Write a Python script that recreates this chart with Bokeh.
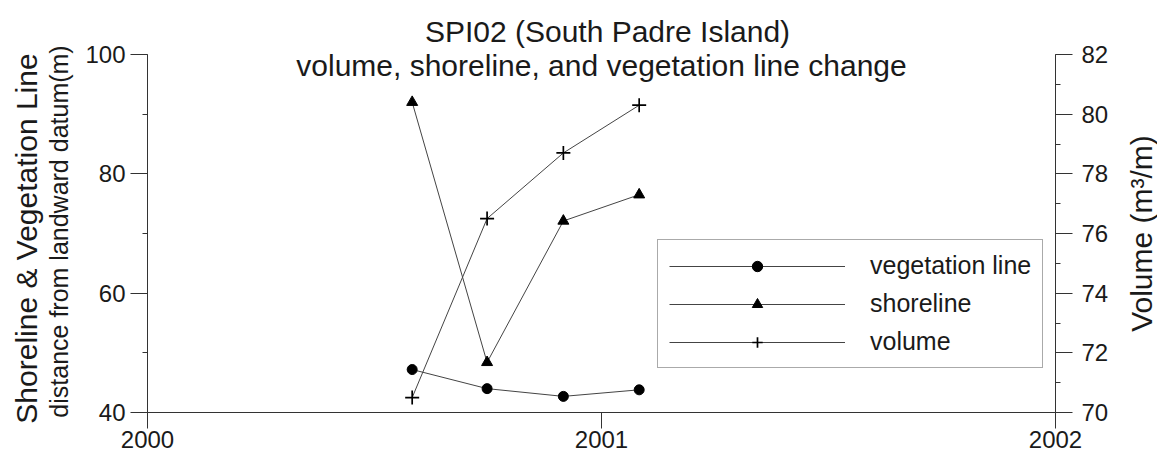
import math
from bokeh.plotting import figure
from bokeh.models import (Range1d, LinearAxis, SingleIntervalTicker, FixedTicker,
                          Legend, LegendItem, Label, ColumnDataSource)
from bokeh.embed import file_html
from bokeh.resources import INLINE

# ---- data ----
dates = [2000.583, 2000.748, 2000.916, 2001.083]
vegetation_line = [47.2, 44.0, 42.7, 43.8]
shoreline = [92.0, 48.4, 72.1, 76.5]
volume = [70.5, 76.5, 78.7, 80.3]

x_ticks = [2000, 2001, 2002]
title_lines = ["SPI02 (South Padre Island)", "volume, shoreline, and vegetation line change"]
left_label_main = "Shoreline & Vegetation Line"
left_label_sub = "distance from landward datum(m)"
right_label = "Volume (m\u00b3/m)"

FONT = "Liberation Sans"
AX = "#333333"
LN = "#444444"
TXT = "#1a1a1a"

# ---- layout geometry (pixels) ----
W, H = 1157, 454
BOX_L, BOX_R, BOX_T, BOX_B = 147, 1055, 54, 412   # the axes box
X_LO, X_HI = 2000, 2002
Y_LO, Y_HI = 40, 100
V_LO, V_HI = 70, 82


def extend(lo, hi, p_lo, p_hi, before, after):
    per = (hi - lo) / (p_hi - p_lo)
    return lo - before * per, hi + after * per


# the frame covers the whole canvas; axes are pinned with fixed_location
xr = extend(X_LO, X_HI, BOX_L, BOX_R, BOX_L, W - BOX_R)
yr = extend(Y_LO, Y_HI, BOX_T, BOX_B, H - BOX_B, BOX_T)
vr = extend(V_LO, V_HI, BOX_T, BOX_B, H - BOX_B, BOX_T)

p = figure(width=W, height=H, output_backend="svg", toolbar_location=None,
           x_range=Range1d(*xr), y_range=Range1d(*yr), min_border=0)
p.min_border_left = p.min_border_right = p.min_border_top = p.min_border_bottom = 0
p.extra_y_ranges = {"vol": Range1d(*vr)}
p.outline_line_color = None
p.xgrid.visible = False
p.ygrid.visible = False
p.background_fill_color = "white"
p.border_fill_color = "white"


def style_axis(ax, tick_out, standoff):
    ax.axis_line_color = AX
    ax.axis_line_width = 1
    ax.major_tick_line_color = AX
    ax.minor_tick_line_color = AX
    ax.major_tick_in = 0
    ax.major_tick_out = tick_out
    ax.minor_tick_in = 0
    ax.minor_tick_out = 5
    ax.major_label_text_font = FONT
    ax.major_label_text_font_size = "24px"
    ax.major_label_text_color = TXT
    ax.major_label_standoff = standoff


# x axis, pinned at y = 40
xa = p.xaxis[0]
xa.ticker = FixedTicker(ticks=x_ticks)
style_axis(xa, 16, 2)
xa.minor_tick_line_color = None
xa.bounds = (X_LO, X_HI)
xa.fixed_location = Y_LO

# left y axis, pinned at x = 2000
ya = p.yaxis[0]
ya.ticker = SingleIntervalTicker(interval=20, num_minor_ticks=2)
style_axis(ya, 17, 5)
ya.bounds = (Y_LO, Y_HI)
ya.fixed_location = X_LO

# right y axis (volume), pinned at x = 2002
ra = LinearAxis(y_range_name="vol", ticker=SingleIntervalTicker(interval=2, num_minor_ticks=2))
style_axis(ra, 17, 9)
ra.bounds = (V_LO, V_HI)
ra.fixed_location = X_HI
p.add_layout(ra, "right")

# data
src = ColumnDataSource(dict(x=dates, veg=vegetation_line, shore=shoreline, vol=volume))
veg_l = p.line("x", "veg", source=src, line_color=LN, line_width=1)
veg_m = p.scatter("x", "veg", source=src, marker="circle", size=10,
                  fill_color="black", line_color="black")
sh_l = p.line("x", "shore", source=src, line_color=LN, line_width=1)
sh_m = p.scatter("x", "shore", source=src, marker="triangle", size=11,
                 fill_color="black", line_color="black")
vo_l = p.line("x", "vol", source=src, y_range_name="vol", line_color=LN, line_width=1)
vo_m = p.scatter("x", "vol", source=src, y_range_name="vol", marker="cross", size=14,
                 line_color="black", line_width=1.7)

legend = Legend(items=[
    LegendItem(label="vegetation line", renderers=[veg_l, veg_m]),
    LegendItem(label="shoreline", renderers=[sh_l, sh_m]),
    LegendItem(label="volume", renderers=[vo_l, vo_m]),
], location=(657, H - 368))
legend.border_line_color = "#555555"
legend.border_line_width = 1
legend.background_fill_color = "white"
legend.background_fill_alpha = 1
legend.label_text_font = FONT
legend.label_text_font_size = "25px"
legend.label_text_color = TXT
legend.glyph_width = 176
legend.glyph_height = 26
legend.label_standoff = 25
legend.label_width = 160
legend.padding = 11
legend.spacing = 9
legend.margin = 0
p.add_layout(legend, "center")


def text_label(x, y, text, size, angle=0.0, baseline="alphabetic"):
    # x, y in canvas pixels from the top-left; Label screen units run from the bottom-left
    p.add_layout(Label(x=x, y=H - y, x_units="screen", y_units="screen", text=text,
                       angle=angle, text_align="center", text_baseline=baseline,
                       text_font=FONT, text_font_size=size, text_color=TXT))


text_label(607, 31, title_lines[0], "30px")
text_label(601, 65, title_lines[1], "30px")
text_label(26, 238, left_label_main, "30px", math.pi / 2, "middle")
text_label(58, 231, left_label_sub, "25px", math.pi / 2, "middle")
text_label(1141, 233, right_label, "30px", math.pi / 2, "middle")

open("out.html", "w").write(file_html(p, INLINE))
